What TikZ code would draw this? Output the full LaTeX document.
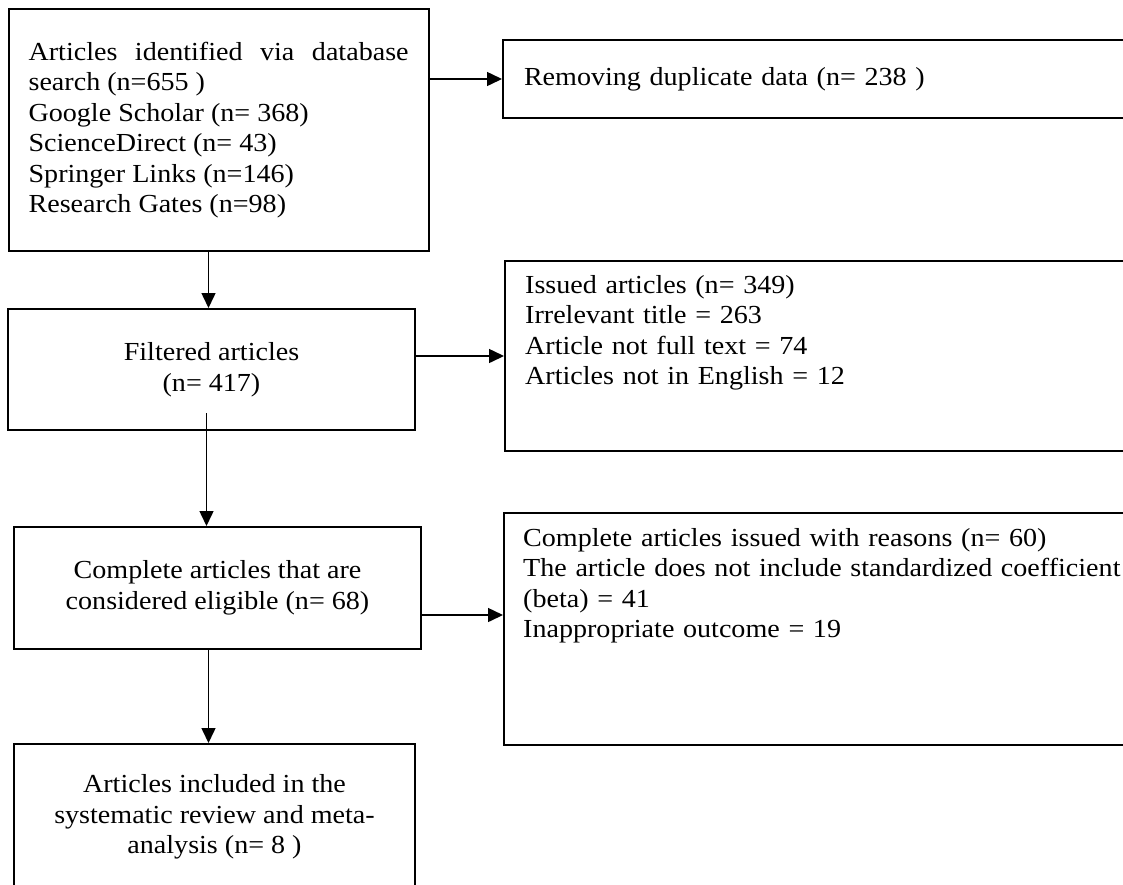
\documentclass[tikz,border=0pt]{standalone}
\usepackage{fontspec}
\setmainfont{Liberation Serif}[FakeStretch=1.08]
\usetikzlibrary{arrows.meta}

\begin{document}
\begin{tikzpicture}[
      x=1pt, y=-1pt,
      >={Triangle[length=15pt, width=14pt]},
      every node/.style={font=\fontsize{26}{30.5}\selectfont},
      box/.style={draw, line width=2pt, align=center, inner sep=0pt},
      sidebox/.style={draw, line width=2pt, anchor=north west, minimum width=640pt},
      note/.style={anchor=base west, inner sep=0pt, text width=610pt, align=left},
      flow/.style={->, line width=1.5pt}
    ]
      \useasboundingbox (0,0) rectangle (1123,884);
      \node[box, text width=380pt, align=justify, minimum width=420pt, minimum height=242pt] (found) at (218.6,130) {Articles identified via database search (n=655 )\\ Google Scholar (n= 368)\\ ScienceDirect (n= 43)\\ Springer Links (n=146)\\ Research Gates (n=98)};
      \node[sidebox, minimum height=78pt, text width=600pt, inner xsep=21pt, align=left] (dup) at (502,39) {Removing duplicate data (n= 238 )};
      \node[box, minimum width=407pt, minimum height=121pt] (filtered) at (211.5,369.5) {Filtered articles\\(n= 417)};
      \node[sidebox, minimum height=190pt] (issued) at (504,260) {};
      \node[note] (issuedtxt) at (525,293) {Issued articles (n= 349)\\ Irrelevant title = 263\\ Article not full text = 74\\ Articles not in English = 12};
      \node[box, minimum width=407pt, minimum height=122pt] (eligible) at (217.5,588) {Complete articles that are\\considered eligible (n= 68)};
      \node[sidebox, minimum height=232pt] (reasons) at (503,512) {};
      \node[note] (reasonstxt) at (523,546) {Complete articles issued with reasons (n= 60)\\ The article does not include standardized coefficient\\ (beta) = 41\\ Inappropriate outcome = 19};
      \node[box, minimum width=401pt, minimum height=146pt] (included) at (214.5,817) {Articles included in the\\systematic review and meta-\\analysis (n= 8 )};
      \draw[flow] (found.east |- dup.west) -- (dup.west);
      \draw[flow] ([xshift=-3pt]filtered.north |- found.south) -- ([xshift=-3pt]filtered.north);
      \draw[flow] (filtered.east |- issued.west) -- (issued.west);
      \draw[flow] ([xshift=-5pt, yshift=18pt]filtered.south) -- ([xshift=-5pt]filtered.south |- eligible.north);
      \draw[flow] ([yshift=-27pt]eligible.east) -- ([yshift=-27pt]eligible.east -| reasons.west);
      \draw[flow] ([xshift=-6pt]included.north |- eligible.south) -- ([xshift=-6pt]included.north);
    \end{tikzpicture}
\end{document}
